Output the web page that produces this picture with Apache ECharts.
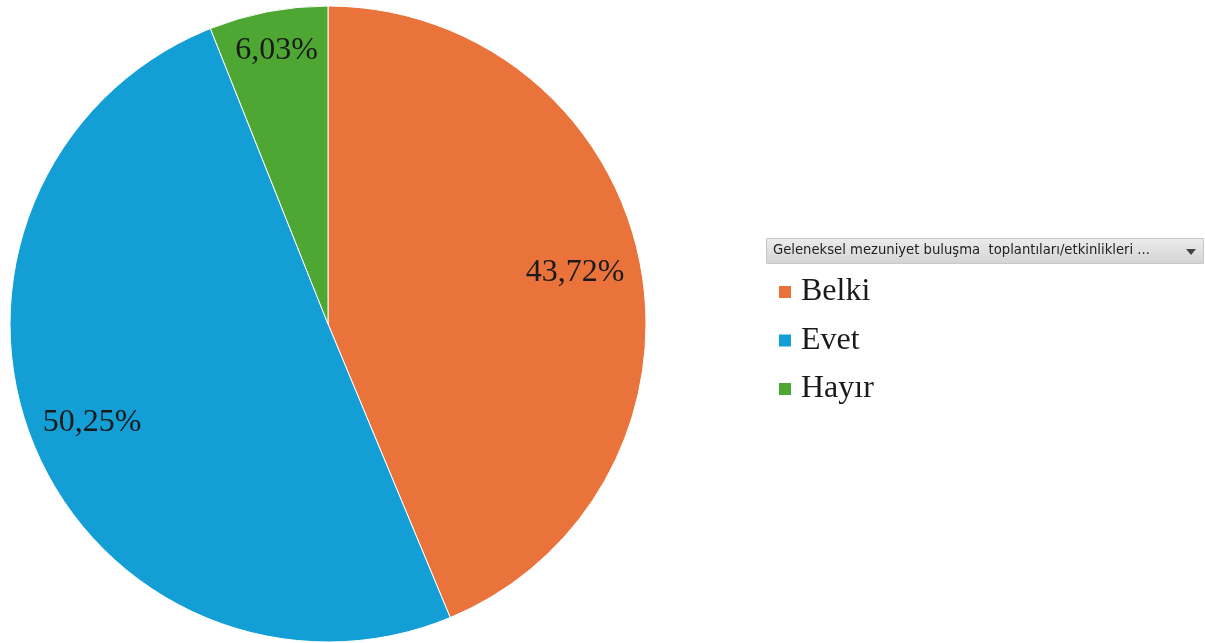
<!DOCTYPE html>
<html><head><meta charset="utf-8">
<script src="https://cdn.jsdelivr.net/npm/echarts@6/dist/echarts.min.js"></script>
<style>html,body{margin:0;padding:0;background:#fff}#c{width:1205px;height:643px}</style>
</head><body><div id="c"></div>
<script>
const categories = ['Belki', 'Evet', 'Hayır'];
const values = [43.72, 50.25, 6.03];
const colors = ['#E9733A', '#139FD6', '#4EA733'];
const headerTitle = 'Geleneksel mezuniyet buluşma  toplantıları/etkinlikleri ...';

const fmt = v => v.toFixed(2).replace('.', ',') + '%';
const data = categories.map((c, i) => ({ name: c, value: values[i], itemStyle: { color: colors[i] } }));

const chart = echarts.init(document.getElementById('c'), null, { renderer: 'canvas' });
chart.setOption({
  animation: false,
  legend: {
    orient: 'vertical', left: 772, top: 271,
    itemWidth: 14, itemHeight: 14, itemGap: 16.5, icon: 'rect',
    data: categories,
    textStyle: { fontFamily: 'Liberation Serif', fontSize: 32, color: '#1a1a1a', lineHeight: 30, padding: [0, 0, 0, 4] }
  },
  graphic: [
    { type: 'rect', left: 766, top: 238, shape: { width: 437, height: 25 },
      style: { fill: new echarts.graphic.LinearGradient(0, 0, 0, 1, [{ offset: 0, color: '#ececec' }, { offset: 1, color: '#d4d4d4' }]), stroke: '#c8c8c8' } },
    { type: 'text', left: 773, top: 244, style: { text: headerTitle, font: '13.2px "DejaVu Sans"', fill: '#222' } },
    { type: 'polygon', shape: { points: [[1186, 249], [1196, 249], [1191, 255]] }, style: { fill: '#444' } }
  ],
  series: [
    { type: 'pie', center: [328, 324], radius: 318, startAngle: 90, clockwise: true,
      data: data, label: { show: false }, labelLine: { show: false },
      itemStyle: { borderColor: '#fff', borderWidth: 1 }, silent: true },
    { type: 'pie', center: [328, 324], radius: [190, 318], startAngle: 90, clockwise: true,
      data: data.map(d => ({ name: d.name, value: d.value, itemStyle: { color: 'rgba(0,0,0,0)' } })),
      legendHoverLink: false, silent: true,
      label: { show: true, position: 'inside', formatter: p => fmt(p.value),
        fontFamily: 'Liberation Serif', fontSize: 32, color: '#1a1a1a' },
      labelLine: { show: false },
      labelLayout: p => p.dataIndex === 2 ? { dx: -3, dy: -21 } : (p.dataIndex === 1 ? { dx: 2, dy: 2 } : { dx: -5, dy: -1 })
    }
  ]
});
</script></body></html>
